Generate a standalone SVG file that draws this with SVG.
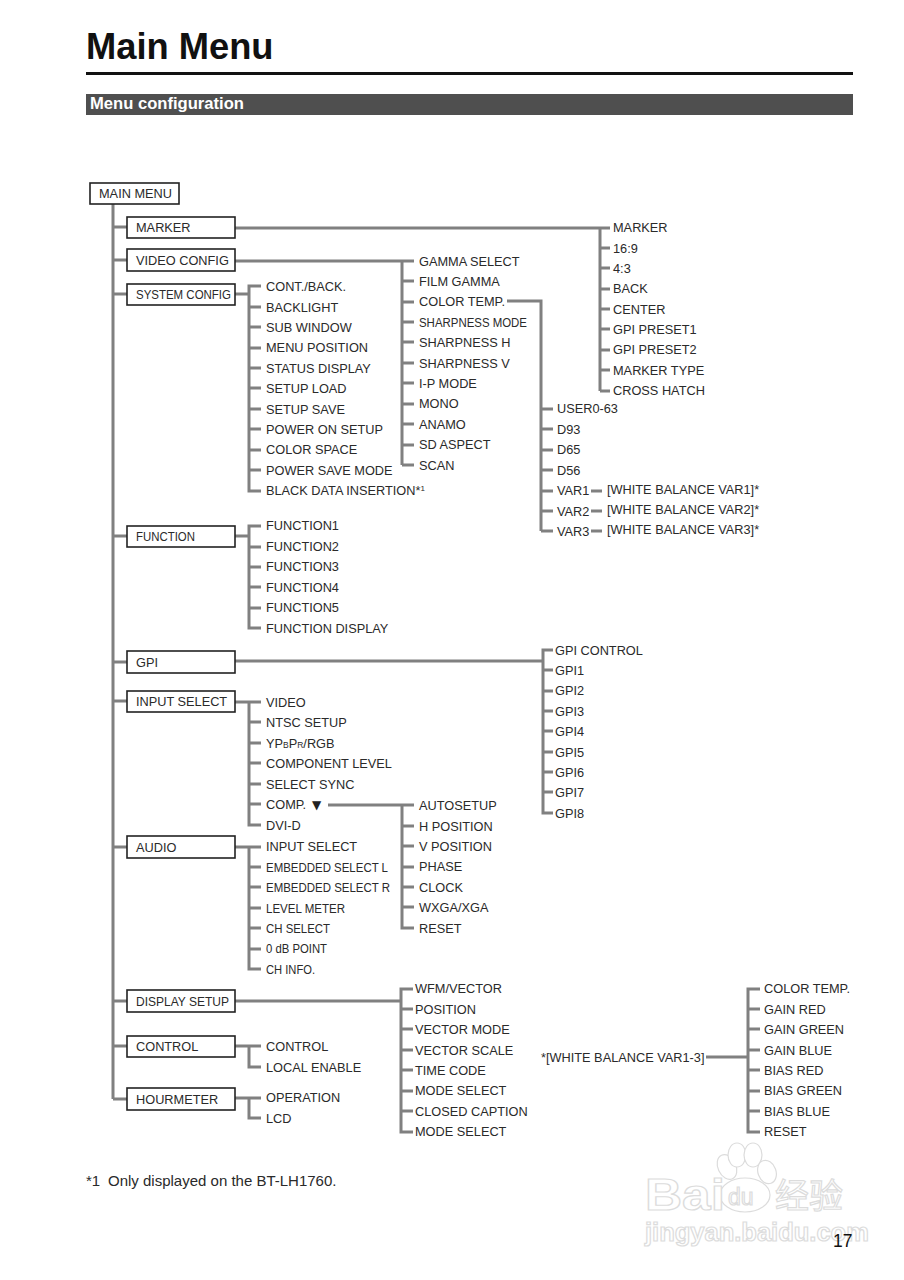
<svg xmlns="http://www.w3.org/2000/svg" width="904" height="1280" viewBox="0 0 904 1280">
<style>
text{font-family:"Liberation Sans",Arial,"Noto Sans CJK SC",sans-serif;fill:#2a2a2a;font-size:12.75px}
.box{fill:#fff;stroke:#222;stroke-width:1.6}
#connectors path{fill:none;stroke:#808080;stroke-width:3}
.wm{fill:#fff;stroke:#dcdcdc;stroke-width:1.2}
</style>
<rect width="904" height="1280" fill="#fff"/>
<g id="header">
<text x="86" y="59" style="font-size:36.3px;font-weight:bold;fill:#111">Main Menu</text>
<rect x="86" y="72" width="767" height="3" fill="#111"/>
<rect x="86" y="94" width="767" height="21" fill="#4f4f4f"/>
<text x="90" y="109" style="font-size:16.6px;font-weight:bold;fill:#fff">Menu configuration</text>
</g>
<g id="watermark">
<ellipse cx="727" cy="1167" rx="9" ry="13" class="wm" transform="rotate(-25 727 1167)"/>
<ellipse cx="737" cy="1155" rx="9" ry="12" class="wm"/>
<ellipse cx="753" cy="1155" rx="9" ry="12" class="wm"/>
<ellipse cx="767" cy="1172" rx="9" ry="12" class="wm" transform="rotate(-20 767 1172)"/>
<ellipse cx="745" cy="1195" rx="25" ry="17" class="wm"/>
<text x="645" y="1210" class="wm" textLength="80" lengthAdjust="spacingAndGlyphs" style="font-size:44px;font-weight:bold;fill:#fff;stroke:#dcdcdc">Bai</text>
<text x="728" y="1205" class="wm" style="font-size:23px;fill:#fff;stroke:#dcdcdc">du</text>
<text x="775" y="1208" class="wm" style="font-size:34px;fill:#fff;stroke:#dcdcdc">经验</text>
<text x="645" y="1241" class="wm" style="font-size:25.5px;font-weight:bold;fill:#fff;stroke:#dcdcdc">jingyan.baidu.com</text>
</g>
<g id="connectors">
<path d="M113 204V1099M113 227H127M113 260H127M113 294H127M113 536H127M113 662H127M113 701H127M113 847H127M113 1001H127M113 1046H127M113 1099H127"/>
<path d="M235 228H600M600 228V391M600 228H610M600 248H610M600 268H610M600 289H610M600 309H610M600 329H610M600 350H610M600 370H610M600 391H610"/>
<path d="M235 261H414M402 261V465M402 281H414M402 302H414M402 322H414M402 342H414M402 363H414M402 383H414M402 404H414M402 424H414M402 445H414M402 465H414"/>
<path d="M507 301H541V531M541 409H553M541 429H553M541 450H553M541 470H553M541 491H553M541 511H553M541 531H553"/>
<path d="M591 491H602M591 511H602M591 531H602"/>
<path d="M235 294H249M261 286H249V491H261M249 307H261M249 327H261M249 348H261M249 368H261M249 388H261M249 409H261M249 429H261M249 450H261M249 470H261"/>
<path d="M235 536H249M261 526H249V628H261M249 547H261M249 567H261M249 587H261M249 608H261"/>
<path d="M235 661H543M553 650H543V813H553M543 670H553M543 691H553M543 711H553M543 731H553M543 752H553M543 772H553M543 792H553"/>
<path d="M235 702H261M249 702V825H261M249 722H261M249 743H261M249 763H261M249 784H261M249 804H261"/>
<path d="M328 805H414M402 805V928H414M402 826H414M402 846H414M402 867H414M402 887H414M402 907H414"/>
<path d="M235 847H261M249 847V969H261M249 867H261M249 887H261M249 908H261M249 928H261M249 949H261"/>
<path d="M235 1001H401M413 989H401V1132H413M401 1009H413M401 1029H413M401 1050H413M401 1070H413M401 1091H413M401 1111H413"/>
<path d="M706 1057H748M760 989H748V1132H760M748 1009H760M748 1029H760M748 1050H760M748 1070H760M748 1091H760M748 1111H760"/>
<path d="M235 1046H261M249 1046V1067H261"/>
<path d="M235 1098H261M249 1098V1118H261"/>
</g>
<g id="main-menu"><rect class="box" x="90" y="183" width="89" height="21"/><text x="99" y="198">MAIN MENU</text></g>
<g id="marker"><rect class="box" x="127" y="217" width="108" height="21"/><text x="136" y="232">MARKER</text></g>
<g id="video-config"><rect class="box" x="127" y="249" width="108" height="22"/><text x="136" y="265">VIDEO CONFIG</text></g>
<g id="system-config"><rect class="box" x="127" y="284" width="108" height="21"/><text x="136" y="299" textLength="95" lengthAdjust="spacingAndGlyphs">SYSTEM CONFIG</text></g>
<g id="function"><rect class="box" x="127" y="526" width="108" height="21"/><text x="136" y="541" textLength="59" lengthAdjust="spacingAndGlyphs">FUNCTION</text></g>
<g id="gpi"><rect class="box" x="127" y="651" width="108" height="22"/><text x="136" y="667">GPI</text></g>
<g id="input-select"><rect class="box" x="127" y="691" width="108" height="21"/><text x="136" y="706">INPUT SELECT</text></g>
<g id="audio"><rect class="box" x="127" y="836" width="108" height="22"/><text x="136" y="852">AUDIO</text></g>
<g id="display-setup"><rect class="box" x="127" y="990" width="108" height="22"/><text x="136" y="1006" textLength="93" lengthAdjust="spacingAndGlyphs">DISPLAY SETUP</text></g>
<g id="control"><rect class="box" x="127" y="1036" width="108" height="21"/><text x="136" y="1051">CONTROL</text></g>
<g id="hourmeter"><rect class="box" x="127" y="1088" width="108" height="22"/><text x="136" y="1104">HOURMETER</text></g>
<g id="marker-items">
<text x="613" y="232">MARKER</text><text x="613" y="253">16:9</text><text x="613" y="273">4:3</text><text x="613" y="293">BACK</text><text x="613" y="314">CENTER</text><text x="613" y="334">GPI PRESET1</text><text x="613" y="354">GPI PRESET2</text><text x="613" y="375">MARKER TYPE</text><text x="613" y="395">CROSS HATCH</text>
</g>
<g id="video-items">
<text x="419" y="266">GAMMA SELECT</text><text x="419" y="286">FILM GAMMA</text><text x="419" y="306">COLOR TEMP.</text><text x="419" y="327" textLength="108" lengthAdjust="spacingAndGlyphs">SHARPNESS MODE</text><text x="419" y="347">SHARPNESS H</text><text x="419" y="368">SHARPNESS V</text><text x="419" y="388">I-P MODE</text><text x="419" y="408">MONO</text><text x="419" y="429">ANAMO</text><text x="419" y="449">SD ASPECT</text><text x="419" y="470">SCAN</text>
</g>
<g id="color-temp-items">
<text x="557" y="413">USER0-63</text><text x="557" y="434">D93</text><text x="557" y="454">D65</text><text x="557" y="475">D56</text><text x="557" y="495">VAR1</text><text x="557" y="516">VAR2</text><text x="557" y="536">VAR3</text>
<text x="607" y="494">[WHITE BALANCE VAR1]*</text><text x="607" y="514">[WHITE BALANCE VAR2]*</text><text x="607" y="534">[WHITE BALANCE VAR3]*</text>
</g>
<g id="system-items">
<text x="266" y="291">CONT./BACK.</text><text x="266" y="312">BACKLIGHT</text><text x="266" y="332">SUB WINDOW</text><text x="266" y="352">MENU POSITION</text><text x="266" y="373">STATUS DISPLAY</text><text x="266" y="393">SETUP LOAD</text><text x="266" y="414">SETUP SAVE</text><text x="266" y="434">POWER ON SETUP</text><text x="266" y="454">COLOR SPACE</text><text x="266" y="475">POWER SAVE MODE</text><text x="266" y="495">BLACK DATA INSERTION*<tspan dy="-4" style="font-size:8px">1</tspan></text>
</g>
<g id="function-items">
<text x="266" y="530">FUNCTION1</text><text x="266" y="551">FUNCTION2</text><text x="266" y="571">FUNCTION3</text><text x="266" y="592">FUNCTION4</text><text x="266" y="612">FUNCTION5</text><text x="266" y="633">FUNCTION DISPLAY</text>
</g>
<g id="gpi-items">
<text x="555" y="655">GPI CONTROL</text><text x="555" y="675">GPI1</text><text x="555" y="695">GPI2</text><text x="555" y="716">GPI3</text><text x="555" y="736">GPI4</text><text x="555" y="757">GPI5</text><text x="555" y="777">GPI6</text><text x="555" y="797">GPI7</text><text x="555" y="818">GPI8</text>
</g>
<g id="input-items">
<text x="266" y="707">VIDEO</text><text x="266" y="727">NTSC SETUP</text><text x="266" y="748">YP<tspan style="font-size:8.5px">B</tspan>P<tspan style="font-size:8.5px">R</tspan>/RGB</text><text x="266" y="768">COMPONENT LEVEL</text><text x="266" y="789">SELECT SYNC</text><text x="266" y="809">COMP.</text><text x="312" y="809" style="font-family:'DejaVu Sans',sans-serif;font-size:12px;fill:#222">▼</text><text x="266" y="830">DVI-D</text>
</g>
<g id="comp-items">
<text x="419" y="810">AUTOSETUP</text><text x="419" y="831">H POSITION</text><text x="419" y="851">V POSITION</text><text x="419" y="871">PHASE</text><text x="419" y="892">CLOCK</text><text x="419" y="912">WXGA/XGA</text><text x="419" y="933">RESET</text>
</g>
<g id="audio-items">
<text x="266" y="851">INPUT SELECT</text><text x="266" y="872" textLength="122" lengthAdjust="spacingAndGlyphs">EMBEDDED SELECT L</text><text x="266" y="892" textLength="124" lengthAdjust="spacingAndGlyphs">EMBEDDED SELECT R</text><text x="266" y="913" textLength="79" lengthAdjust="spacingAndGlyphs">LEVEL METER</text><text x="266" y="933" textLength="64" lengthAdjust="spacingAndGlyphs">CH SELECT</text><text x="266" y="953" textLength="61" lengthAdjust="spacingAndGlyphs">0 dB POINT</text><text x="266" y="974" textLength="49" lengthAdjust="spacingAndGlyphs">CH INFO.</text>
</g>
<g id="display-items">
<text x="415" y="993">WFM/VECTOR</text><text x="415" y="1014">POSITION</text><text x="415" y="1034">VECTOR MODE</text><text x="415" y="1055">VECTOR SCALE</text><text x="415" y="1075">TIME CODE</text><text x="415" y="1095">MODE SELECT</text><text x="415" y="1116">CLOSED CAPTION</text><text x="415" y="1136">MODE SELECT</text>
</g>
<g id="control-items"><text x="266" y="1051">CONTROL</text><text x="266" y="1072">LOCAL ENABLE</text></g>
<g id="hourmeter-items"><text x="266" y="1102">OPERATION</text><text x="266" y="1123">LCD</text></g>
<g id="white-balance">
<text x="541" y="1062">*[WHITE BALANCE VAR1-3]</text>
<text x="764" y="993">COLOR TEMP.</text><text x="764" y="1014">GAIN RED</text><text x="764" y="1034">GAIN GREEN</text><text x="764" y="1055">GAIN BLUE</text><text x="764" y="1075">BIAS RED</text><text x="764" y="1095">BIAS GREEN</text><text x="764" y="1116">BIAS BLUE</text><text x="764" y="1136">RESET</text>
</g>
<g id="footer">
<text x="86" y="1186" style="font-size:15px">*1</text><text x="108" y="1186" style="font-size:15px">Only displayed on the BT-LH1760.</text>
<text x="833" y="1247" style="font-size:17.5px;fill:#111">17</text>
</g>
</svg>
